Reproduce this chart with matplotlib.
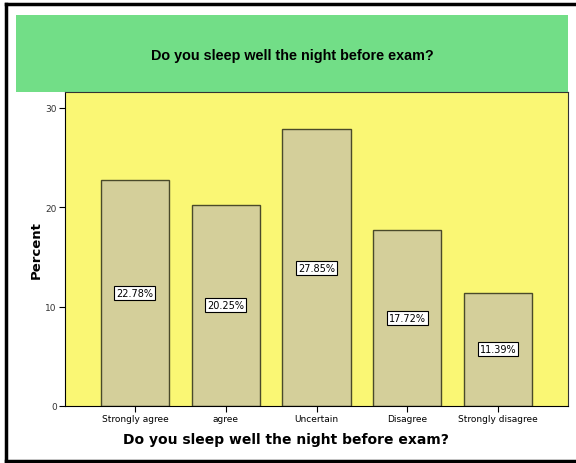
import matplotlib.pyplot as plt
from matplotlib.patches import Rectangle
from matplotlib.lines import Line2D

categories = ["Strongly agree", "agree", "Uncertain", "Disagree", "Strongly disagree"]
percent = [22.78, 20.25, 27.85, 17.72, 11.39]
yticks = [0, 10, 20, 30]
title = "Do you sleep well the night before exam?"

fig = plt.figure(figsize=(5.76, 4.64), dpi=100)
fig.patch.set_facecolor("white")

# outer frame (top, left, bottom)
for xs, ys in [((6 / 576, 1), (1 - 5 / 464,) * 2),
               ((6 / 576,) * 2, (1 - 5 / 464, 1 - 462 / 464)),
               ((6 / 576, 1), (1 - 462 / 464,) * 2)]:
    fig.add_artist(Line2D(xs, ys, color="black", lw=2.5, transform=fig.transFigure))

# green title band
fig.add_artist(Rectangle((16 / 576, 1 - 93 / 464), 552 / 576, 77 / 464,
                         transform=fig.transFigure, facecolor="#72de87",
                         edgecolor="none", zorder=0))
fig.text(292 / 576, 1 - 56 / 464, title, ha="center", va="center",
         fontsize=10.4, fontweight="bold", family="Liberation Sans")

ax = fig.add_axes([65 / 576, 1 - 407 / 464, 503 / 576, 314 / 464])
ax.set_facecolor("#faf774")
x = range(len(categories))
ax.bar(x, percent, width=0.75, color="#d4cf9a", edgecolor="#4a4a2a", linewidth=1)
for xi, v in zip(x, percent):
    ax.text(xi, v / 2, f"{v:.2f}%", ha="center", va="center", fontsize=7,
            bbox=dict(boxstyle="square,pad=0.2", facecolor="white", edgecolor="black", lw=0.8))

ax.set_xlim(-0.77, 4.77)
ax.set_ylim(0, 31.6)
ax.set_xticks(list(x))
ax.set_xticklabels(categories, fontsize=6.5)
ax.set_yticks(yticks)
ax.set_yticklabels([str(t) for t in yticks], fontsize=6.5, color="#333333")
ax.tick_params(direction="out", length=4, width=0.8, pad=2)
for s in ax.spines.values():
    s.set_color("#333333")
    s.set_linewidth(0.8)
ax.spines["left"].set_color("black")
ax.spines["bottom"].set_color("black")

# axis titles placed as in the original (x title centred on the chart, not the axes)
fig.text(36 / 576, 1 - 250 / 464, "Percent", rotation=90, ha="center", va="center",
         fontsize=9.5, fontweight="bold")
fig.text(286 / 576, 1 - 440 / 464, title, ha="center", va="center",
         fontsize=10, fontweight="bold")

fig.savefig("out.png", dpi=100)
